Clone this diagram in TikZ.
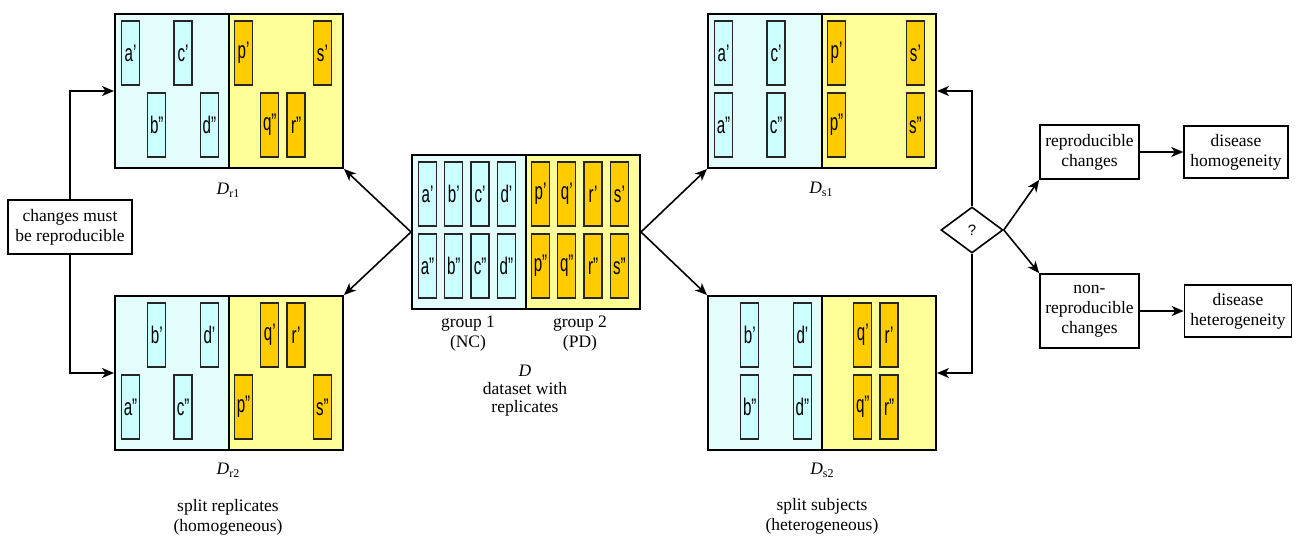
\documentclass[tikz,border=0pt]{standalone}
\usepackage{fontspec}
\setmainfont{Liberation Serif}
\newfontfamily\barfont[FakeStretch=0.63]{Liberation Sans}
\newfontfamily\qfont{Liberation Sans}
\usetikzlibrary{arrows.meta,shapes.geometric}
\definecolor{cyanbg}{HTML}{E3FDFD}
\definecolor{cyanbar}{HTML}{CCFFFF}
\definecolor{yellowbg}{HTML}{FFFF99}
\definecolor{orangebar}{HTML}{FFCC00}
\tikzset{
  halfL/.style={fill=cyanbg, draw=black, line width=1.6pt, minimum width=114pt, minimum height=154pt, inner sep=0pt, anchor=north west},
  halfR/.style={halfL, fill=yellowbg},
  panelbox/.style={draw=black, line width=2pt, minimum width=228pt, minimum height=154pt, inner sep=0pt, anchor=north west},
  cbar/.style={fill=cyanbar, draw=black!85, line width=1.3pt, minimum width=18pt, minimum height=64pt, inner sep=0pt, font=\barfont\fontsize{24}{24}\selectfont},
  obar/.style={cbar, fill=orangebar},
  txt/.style={font=\fontsize{17.5}{20}\selectfont, align=center, inner sep=0pt},
  tbox/.style={draw=black, line width=1.6pt, font=\fontsize{17.5}{20}\selectfont, align=center, inner sep=0pt},
  arr/.style={line width=1.6pt, -{Stealth[length=12pt,width=10pt,inset=3.5pt]}},
}
\newcommand{\mkpanel}[3]{%
  \node[halfL] (#1-L) at (#2,#3) {};
  \node[halfR] (#1-R) at ({#2+114},#3) {};
}
\newcommand{\mkbars}[4]{% name, x, y, list
  \foreach \c/\r/\t in {#4} {
    \pgfmathsetmacro{\cx}{\c<4 ? 16.5+26.3*\c : 129.5+26.3*(\c-4)}
    \ifnum\c<4 \def\bs{cbar}\else\def\bs{obar}\fi
    \node[\bs] (#1-b\c-\r) at ({#2+\cx},{#3+40+72*\r}) {\t};
  }
  \node[panelbox] (#1) at (#2,#3) {};
}
\newcommand{\Dlab}[1]{\textit{D}\raisebox{-0.35ex}{\fontsize{12}{12}\selectfont #1}}
\begin{document}
\begin{tikzpicture}[x=1pt,y=-1pt]
\useasboundingbox (0,0) rectangle (1299,538);
% panels
\mkpanel{r1}{114}{13}
\mkbars{r1}{114}{13}{0/0/a’,2/0/c’,4/0/p’,7/0/s’,1/1/b”,3/1/d”,5/1/q”,6/1/r”}
\mkpanel{r2}{114}{295}
\mkbars{r2}{114}{295}{1/0/b’,3/0/d’,5/0/q’,6/0/r’,0/1/a”,2/1/c”,4/1/p”,7/1/s”}
\mkpanel{D}{411}{154}
\mkbars{D}{411}{154}{0/0/a’,1/0/b’,2/0/c’,3/0/d’,4/0/p’,5/0/q’,6/0/r’,7/0/s’,0/1/a”,1/1/b”,2/1/c”,3/1/d”,4/1/p”,5/1/q”,6/1/r”,7/1/s”}
\mkpanel{s1}{707}{13}
\mkbars{s1}{707}{13}{0/0/a’,2/0/c’,4/0/p’,7/0/s’,0/1/a”,2/1/c”,4/1/p”,7/1/s”}
\mkpanel{s2}{707}{295}
\mkbars{s2}{707}{295}{1/0/b’,3/0/d’,5/0/q’,6/0/r’,1/1/b”,3/1/d”,5/1/q”,6/1/r”}
% labels
\node[txt] (lr1) at (228,190) {\Dlab{r1}};
\node[txt] (lr2) at (228,470) {\Dlab{r2}};
\node[txt] (ls1) at (821,189) {\Dlab{s1}};
\node[txt] (ls2) at (822,470) {\Dlab{s2}};
\node[txt] (g1) at (468,334) {group 1\\(NC)};
\node[txt] (g2) at (580,334) {group 2\\(PD)};
\node[txt, font=\fontsize{17.5}{18}\selectfont] (dl) at (525,391) {\textit{D}\\dataset with\\replicates};
\node[txt] (spr) at (228,517) {split replicates\\(homogeneous)};
\node[txt] (sps) at (822,516) {split subjects\\(heterogeneous)};
% boxes
\node[tbox, minimum width=124pt, minimum height=54pt] (chg) at (70,227) {changes must\\be reproducible};
\node[draw=black, line width=1.6pt, diamond, aspect=1.35, minimum width=62pt, minimum height=46pt, inner sep=0pt, font=\qfont\fontsize{15}{15}\selectfont] (q) at (972,230) {?};
\node[tbox, minimum width=99pt, minimum height=54pt] (rep) at (1089.5,152) {reproducible\\changes};
\node[tbox, minimum width=104pt, minimum height=52pt] (hom) at (1236,152) {disease\\homogeneity};
\node[tbox, minimum width=99pt, minimum height=74pt] (nrep) at (1089.5,311) {non-\\reproducible\\changes};
\node[tbox, minimum width=107pt, minimum height=52pt] (het) at (1238,311) {disease\\heterogeneity};
% connectors
\draw[arr] (chg.north) |- (r1.west);
\draw[arr] (chg.south) |- (r2.west);
\draw[arr] (D.west) -- (r1.south east);
\draw[arr] (D.west) -- (r2.north east);
\draw[arr] (D.east) -- (s1.south west);
\draw[arr] (D.east) -- (s2.north west);
\draw[arr] (q.north) |- (s1.east);
\draw[arr] (q.south) |- (s2.east);
\draw[arr] (q.east) -- (rep.south west);
\draw[arr] (q.east) -- (nrep.north west);
\draw[arr] (rep.east) -- (hom.west);
\draw[arr] (nrep.east) -- (het.west);
\end{tikzpicture}
\end{document}
